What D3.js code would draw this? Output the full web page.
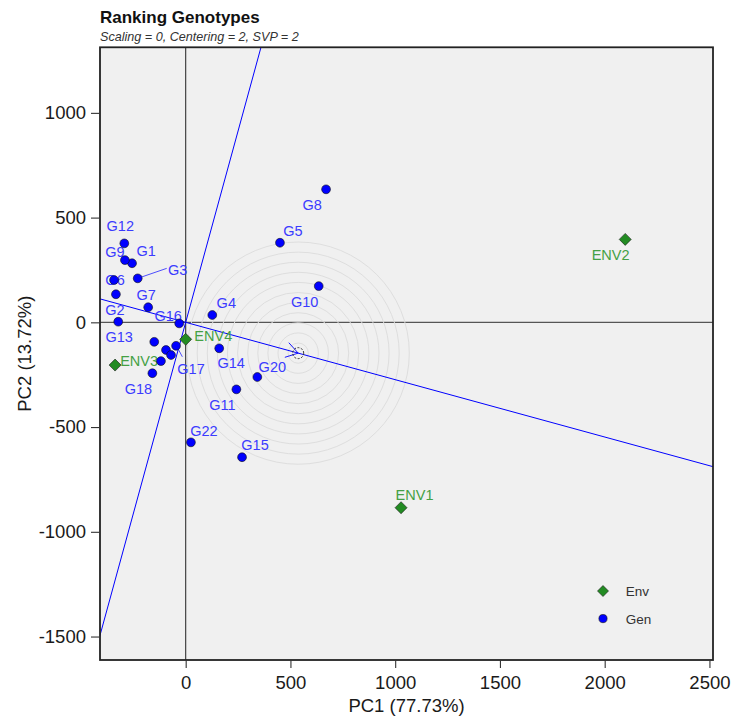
<!DOCTYPE html>
<html><head><meta charset="utf-8">
<script src="https://cdn.jsdelivr.net/npm/d3@7"></script>
<style>
body{margin:0;background:#fff;}
text{font-family:"Liberation Sans",Arial,Helvetica,sans-serif;}
</style>
</head><body>
<svg id="chart" width="731" height="718"></svg>
<script>
// ---------------- data ----------------
const genNames = ["G1","G2","G3","G4","G5","G6","G7","G8","G9","G10","G11","G12","G13","G14","G15","G16","G17","G18","G19","G20","G21","G22","G23","G24"];
const genPC1 = [-256,-333,-229,127,450,-342,-179,670,-290,635,242,-293,-322,160,269,-31,-46,-159,-150,342,-94,25,-70,-118];
const genPC2 = [282,134,210,35,380,202,72,635,297,173,-320,377,3,-124,-644,-5,-112,-243,-93,-261,-132,-573,-156,-185];
const envNames = ["ENV1","ENV2","ENV3","ENV4"];
const envPC1 = [1028,2098,-337,0];
const envPC2 = [-885,396,-204,-81];
const idealPoint = [537,-147];
const xTicks = [0,500,1000,1500,2000,2500];
const yTicks = [-1500,-1000,-500,0,500,1000];
const xDomain = [-409,2517];
const yDomain = [-1612,1313];
const titleText = "Ranking Genotypes";
const subtitleText = "Scaling = 0, Centering = 2, SVP = 2";
const xTitle = "PC1 (77.73%)";
const yTitle = "PC2 (13.72%)";
const legendItems = ["Env","Gen"];

// label placement (pixel offsets of text centre/baseline from the point)
const genLabelOffsets = {
  G1:[14,-7], G2:[-1,21], G3:[40,-3], G4:[14,-7], G5:[13,-7], G6:[1,5], G7:[-2,-7],
  G8:[-14,21], G9:[-10,-3], G10:[-14,21], G11:[-14,21], G12:[-4,-12], G13:[1,20],
  G14:[12,20], G15:[13,-7], G16:[-11,-2], G17:[15,28], G18:[-14,21], G20:[15,-5], G22:[13,-6]
};
const envLabelOffsets = {ENV1:[13.5,-8], ENV2:[-14.6,21], ENV3:[24,1], ENV4:[27.6,2]};
const leaderLines = {G3:[[0,0],[29,-10]], G17:[[2,3],[6.3,11]]};

// ---------------- layout ----------------
const svg = d3.select("#chart");
const P = {left:100, right:713, top:47.3, bottom:660};
const x = d3.scaleLinear().domain(xDomain).range([P.left,P.right]);
const y = d3.scaleLinear().domain(yDomain).range([P.bottom,P.top]);

const GEN_FILL = "#0000ff", GEN_TEXT = "#3b3bff";
const ENV_FILL = "#228b22", ENV_TEXT = "#44a044";

svg.append("defs").append("clipPath").attr("id","clip")
  .append("rect").attr("x",P.left).attr("y",P.top).attr("width",P.right-P.left).attr("height",P.bottom-P.top);

svg.append("rect").attr("x",P.left).attr("y",P.top).attr("width",P.right-P.left).attr("height",P.bottom-P.top)
  .attr("fill","#f0f0f0");

const g = svg.append("g").attr("clip-path","url(#clip)");

// zero lines
g.append("line").attr("x1",P.left).attr("x2",P.right).attr("y1",y(0)).attr("y2",y(0))
  .attr("stroke","#555").attr("stroke-width",1.2);
g.append("line").attr("x1",x(0)).attr("x2",x(0)).attr("y1",P.top).attr("y2",P.bottom)
  .attr("stroke","#333").attr("stroke-width",1.1);

// concentric circles around ideal genotype
const nCircles = 11, stepPx = 10.1;
const cx = x(idealPoint[0]), cy = y(idealPoint[1]);
g.selectAll("circle.ring").data(d3.range(1,nCircles+1)).enter().append("circle")
  .attr("class","ring").attr("cx",cx).attr("cy",cy).attr("r",d=>d*stepPx)
  .attr("fill","none").attr("stroke","#dedede").attr("stroke-width",1);

// AEC abscissa & ordinate
const [ax,ay] = idealPoint;
g.append("line").attr("x1",x(-10*ax)).attr("y1",y(-10*ay)).attr("x2",x(10*ax)).attr("y2",y(10*ay))
  .attr("stroke","#0000ff").attr("stroke-width",1);
g.append("line").attr("x1",x(-10*ay)).attr("y1",y(10*ax)).attr("x2",x(10*ay)).attr("y2",y(-10*ax))
  .attr("stroke","#0000ff").attr("stroke-width",1);

// arrowhead at ideal point
const ang = Math.atan2(cy-y(0), cx-x(0));
const aL = 14, aA = Math.PI/5.5;
[ang+Math.PI-aA, ang+Math.PI+aA].forEach(a=>{
  g.append("line").attr("x1",cx).attr("y1",cy).attr("x2",cx+aL*Math.cos(a)).attr("y2",cy+aL*Math.sin(a))
   .attr("stroke","#0000ff").attr("stroke-width",0.9);
});
g.append("circle").attr("cx",cx).attr("cy",cy).attr("r",5.5).attr("fill","none")
  .attr("stroke","#333").attr("stroke-width",1).attr("stroke-dasharray","2,1.5");

// genotypes
const gen = genNames.map((n,i)=>({name:n, px:x(genPC1[i]), py:y(genPC2[i])}));
const env = envNames.map((n,i)=>({name:n, px:x(envPC1[i]), py:y(envPC2[i])}));

// leader lines
gen.filter(d=>leaderLines[d.name]).forEach(d=>{
  const L = leaderLines[d.name];
  g.append("line").attr("x1",d.px+L[0][0]).attr("y1",d.py+L[0][1]).attr("x2",d.px+L[1][0]).attr("y2",d.py+L[1][1])
   .attr("stroke",GEN_TEXT).attr("stroke-width",0.9);
});

g.selectAll("text.glab").data(gen.filter(d=>genLabelOffsets[d.name])).enter().append("text")
  .attr("class","glab").attr("x",d=>d.px+genLabelOffsets[d.name][0]).attr("y",d=>d.py+genLabelOffsets[d.name][1])
  .attr("text-anchor","middle").attr("font-size",14.5).attr("fill",GEN_TEXT).text(d=>d.name);

g.selectAll("text.elab").data(env).enter().append("text")
  .attr("class","elab").attr("x",d=>d.px+envLabelOffsets[d.name][0]).attr("y",d=>d.py+envLabelOffsets[d.name][1])
  .attr("text-anchor","middle").attr("font-size",14.5).attr("fill",ENV_TEXT).text(d=>d.name);

g.selectAll("circle.gen").data(gen).enter().append("circle").attr("class","gen")
  .attr("cx",d=>d.px).attr("cy",d=>d.py).attr("r",4.4)
  .attr("fill",GEN_FILL).attr("stroke","#111").attr("stroke-width",0.6);

const diamond = r => `M0,${-r}L${r},0L0,${r}L${-r},0Z`;
g.selectAll("path.env").data(env).enter().append("path").attr("class","env")
  .attr("transform",d=>`translate(${d.px},${d.py})`).attr("d",diamond(6))
  .attr("fill",ENV_FILL).attr("stroke","#1a1a1a").attr("stroke-width",0.6);

// legend
const lg = svg.append("g").attr("transform",`translate(${P.right-110},${P.bottom-69})`);
lg.append("path").attr("d",diamond(5.5)).attr("fill",ENV_FILL).attr("stroke","#1a1a1a").attr("stroke-width",0.6);
lg.append("circle").attr("cy",27.6).attr("r",4.1).attr("fill",GEN_FILL).attr("stroke","#111").attr("stroke-width",0.6);
lg.selectAll("text").data(legendItems).enter().append("text")
  .attr("x",22.7).attr("y",(d,i)=>5.3+i*27.6).attr("font-size",13.5).attr("fill","#333").text(d=>d);

// panel border
svg.append("rect").attr("x",P.left).attr("y",P.top).attr("width",P.right-P.left).attr("height",P.bottom-P.top)
  .attr("fill","none").attr("stroke","#222").attr("stroke-width",1.8);

// axes
const xa = svg.append("g").attr("transform",`translate(0,${P.bottom})`)
  .call(d3.axisBottom(x).tickValues(xTicks).tickSize(8).tickPadding(8).tickFormat(d3.format("d")));
const ya = svg.append("g").attr("transform",`translate(${P.left},0)`)
  .call(d3.axisLeft(y).tickValues(yTicks).tickSize(9).tickPadding(5).tickFormat(d=>d<0?"-"+Math.abs(d):d));
[xa,ya].forEach(a=>{
  a.select(".domain").remove();
  a.selectAll(".tick line").attr("stroke","#333").attr("stroke-width",1.1);
  a.selectAll(".tick text").attr("font-size",18.5).attr("fill","#1a1a1a")
    .attr("font-family","'Liberation Sans',Arial,sans-serif");
});

// titles
svg.append("text").attr("x",P.left).attr("y",22.7).attr("font-size",17).attr("font-weight","bold")
  .attr("fill","#111").text(titleText);
svg.append("text").attr("x",P.left).attr("y",40.5).attr("font-size",12.6).attr("font-style","italic")
  .attr("fill","#333").text(subtitleText);
svg.append("text").attr("x",(P.left+P.right)/2).attr("y",712).attr("text-anchor","middle")
  .attr("font-size",18.5).attr("fill","#1a1a1a").text(xTitle);
svg.append("text").attr("transform",`translate(31,${(P.top+P.bottom)/2}) rotate(-90)`).attr("text-anchor","middle")
  .attr("font-size",18.5).attr("fill","#1a1a1a").text(yTitle);
</script>
</body></html>
